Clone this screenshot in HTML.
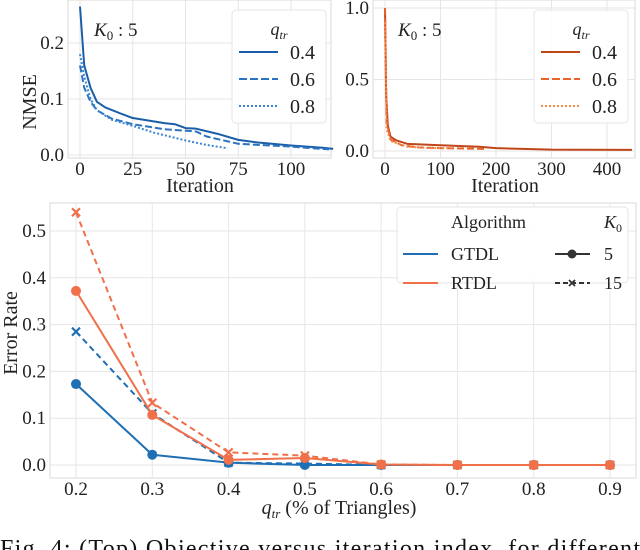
<!DOCTYPE html>
<html><head><meta charset="utf-8"><style>
html,body{margin:0;padding:0;background:#fff;}
svg{display:block;}
svg text{font-family:"Liberation Serif","DejaVu Serif",serif;}
</style></head><body>
<svg id="c" width="640" height="550" viewBox="0 0 640 550" xmlns="http://www.w3.org/2000/svg" font-family="Liberation Serif, serif"></svg>
<script>
// ---- Top-left data (NMSE vs iteration, GTDL) ----
const tlX04=[0,2,5,8,12,20,25,40,45,50,55,65,75,85,100,115,120];
const tlY04=[0.265,0.16,0.12,0.095,0.085,0.073,0.066,0.057,0.055,0.048,0.047,0.038,0.027,0.022,0.017,0.013,0.011];
const tlX06=[0,2,5,8,15,25,40,55,60,75,100,118];
const tlY06=[0.16,0.12,0.095,0.08,0.065,0.055,0.046,0.042,0.033,0.02,0.015,0.01];
const tlX08=[0,2,5,8,15,25,35,50,60,70];
const tlY08=[0.18,0.14,0.1,0.08,0.063,0.052,0.04,0.026,0.018,0.012];
const tlXTicks=[0,25,50,75,100];
const tlYTicks=[0.0,0.1,0.2];
// ---- Top-right data (RTDL) ----
const trX04=[0,2,5,10,20,40,100,170,200,300,445];
const trY04=[1.0,0.4,0.18,0.1,0.075,0.05,0.04,0.03,0.02,0.01,0.008];
const trX06=[0,3,10,30,60,100,180];
const trY06=[1.0,0.2,0.08,0.04,0.025,0.02,0.015];
const trX08=[0,3,10,40,80,120];
const trY08=[0.9,0.15,0.07,0.03,0.02,0.02];
const trXTicks=[0,100,200,300,400];
const trYTicks=[0.0,0.5,1.0];
// ---- Bottom data (error rate) ----
const qtr=[0.2,0.3,0.4,0.5,0.6,0.7,0.8,0.9];
const gtdl5=[0.173,0.022,0.005,0.0,0.0,0.0,0.0,0.0];
const gtdl15=[0.285,0.11,0.005,0.003,0.0,0.0,0.0,0.0];
const rtdl5=[0.372,0.107,0.011,0.015,0.001,0.0,0.0,0.0];
const rtdl15=[0.54,0.133,0.027,0.02,0.001,0.0,0.0,0.0];
const bYTicks=[0.0,0.1,0.2,0.3,0.4,0.5];

const NS="http://www.w3.org/2000/svg";
const FF="Liberation Serif, DejaVu Serif, serif";
const svg=document.getElementById('c');
function el(tag,attrs,parent,txt){const e=document.createElementNS(NS,tag);if(tag==='text')e.setAttribute('font-family',FF);for(const k in attrs)e.setAttribute(k,attrs[k]);if(txt!==undefined)e.textContent=txt;(parent||svg).appendChild(e);return e;}
function lin(d0,d1,p0,p1){return v=>p0+(v-d0)*(p1-p0)/(d1-d0);}

function panel(name,box,sx,sy,xt,yt){
  const g=el('g',{});
  
  
  for(const t of xt){el('line',{x1:sx(t),x2:sx(t),y1:box.t,y2:box.b,stroke:'#e6e6e6','stroke-width':1},g);}
  for(const t of yt){el('line',{x1:box.l,x2:box.r,y1:sy(t),y2:sy(t),stroke:'#e6e6e6','stroke-width':1},g);}
  el('rect',{x:box.l,y:box.t,width:box.r-box.l,height:box.b-box.t,fill:'none',stroke:'#e0e0e0','stroke-width':1.2},g);
  for(const t of xt){const tx=el('text',{x:sx(t),y:box.b+17,'text-anchor':'middle','font-size':19,fill:'#222'},g,String(t));
    }
  for(const t of yt){const tx=el('text',{x:box.l-4,y:sy(t)+6,'text-anchor':'end','font-size':19,fill:'#222'},g,t.toFixed(1));
    }
  return g;
}
function line(g,xs,ys,sx,sy,color,dash,w,name){
  const p=el('polyline',{points:xs.map((x,i)=>sx(x)+','+sy(ys[i])).join(' '),fill:'none',stroke:color,'stroke-width':w||2,'stroke-dasharray':dash||'none','stroke-linejoin':'round'},g);
  
  
  return p;
}
function legendQ(x,y,colors,name){
  const g=el('g',{});
  
  
  el('rect',{x:x,y:y,width:94,height:113,rx:4,fill:'#fff','fill-opacity':0.85,stroke:'#e6e6e6'},g);
  const t=el('text',{x:x+47,y:y+25,'text-anchor':'middle','font-size':18,'font-style':'italic',fill:'#222'},g);
  el('tspan',{},t,'q');el('tspan',{'font-size':12,dy:4},t,'tr');
  const labs=['0.4','0.6','0.8'],dashes=['none','8,3','2,2'];
  for(let i=0;i<3;i++){
    const yy=y+42+i*27;
    el('line',{x1:x+7,x2:x+46,y1:yy,y2:yy,stroke:colors[i],'stroke-width':2,'stroke-dasharray':dashes[i]},g);
    el('text',{x:x+58,y:yy+7,'font-size':20,fill:'#222'},g,labs[i]);
  }
}
function k0label(x,y){
  const t=el('text',{x:x,y:y,'font-size':19,'font-style':'italic',fill:'#222'});
  
  el('tspan',{},t,'K');el('tspan',{'font-size':13,dy:4,'font-style':'normal'},t,'0');el('tspan',{dy:-4,'font-style':'normal'},t,' : 5');
}

// Top-left
{
  const box={l:68,r:331,t:0,b:158};
  const sx=lin(0,100,80,291), sy=lin(0,0.2,155,43);
  const g=panel('nmse-gtdl-panel',box,sx,sy,tlXTicks,tlYTicks);
  const cs=['#1a5ea8','#2b72c0','#3a86d0'];
  line(g,tlX04,tlY04,sx,sy,cs[0],'none',2,'line-q04');
  line(g,tlX06,tlY06,sx,sy,cs[1],'7,3',2,'line-q06');
  line(g,tlX08,tlY08,sx,sy,cs[2],'2,2',2,'line-q08');
  k0label(94,36);
  legendQ(232,10,cs,'legend-gtdl');
  const yl=el('text',{x:0,y:0,transform:'translate(36,102) rotate(-90)','text-anchor':'middle','font-size':20,fill:'#222'},null,'NMSE');
  
  const xl=el('text',{x:200,y:192,'text-anchor':'middle','font-size':20,fill:'#222'},null,'Iteration');
  
}
// Top-right
{
  const box={l:373,r:635,t:0,b:158};
  const sx=lin(0,400,385,607), sy=lin(0,1,151,8);
  const g=panel('nmse-rtdl-panel',box,sx,sy,trXTicks,trYTicks);
  const cs=['#c0461a','#e8622a','#f58a4a'];
  line(g,trX04,trY04,sx,sy,cs[0],'none',2,'line-q04');
  line(g,trX06,trY06,sx,sy,cs[1],'7,3',2,'line-q06');
  line(g,trX08,trY08,sx,sy,cs[2],'2,2',2,'line-q08');
  k0label(398,36);
  legendQ(534,10,cs,'legend-rtdl');
  const xl=el('text',{x:505,y:192,'text-anchor':'middle','font-size':20,fill:'#222'},null,'Iteration');
  
}
// Bottom
{
  const box={l:50,r:636,t:203,b:478};
  const sx=lin(0.2,0.9,76,610), sy=lin(0,0.5,465,231);
  const g=panel('error-rate-panel',box,sx,sy,[],bYTicks);
  for(const t of qtr){el('line',{x1:sx(t),x2:sx(t),y1:box.t,y2:box.b,stroke:'#e6e6e6'},g);
    const tx=el('text',{x:sx(t),y:box.b+17,'text-anchor':'middle','font-size':19,fill:'#222'},g,t.toFixed(1));
    }
  const blue='#1f6fb4', orng='#f0704a';
  const series=[[gtdl15,blue,'6,4','x','gtdl-k15'],[gtdl5,blue,'none','o','gtdl-k5'],[rtdl5,orng,'none','o','rtdl-k5'],[rtdl15,orng,'6,4','x','rtdl-k15']];
  for(const [ys,c,d,m,n] of series){
    line(g,qtr,ys,sx,sy,c,d,2,n+'-line');
    qtr.forEach((q,i)=>{
      const x=sx(q),y=sy(ys[i]);
      if(m==='o'){const ci=el('circle',{cx:x,cy:y,r:5,fill:c},g);}
      else{const p=el('path',{d:`M${x-4},${y-4}L${x+4},${y+4}M${x-4},${y+4}L${x+4},${y-4}`,stroke:c,'stroke-width':2.2},g);}
    });
  }
  const lg=el('g',{});
  
  
  el('rect',{x:397,y:207,width:231,height:76,rx:4,fill:'#fff','fill-opacity':0.9,stroke:'#e6e6e6'},lg);
  el('text',{x:451,y:228,'font-size':18,fill:'#222'},lg,'Algorithm');
  const kt=el('text',{x:604,y:228,'font-size':18,'font-style':'italic',fill:'#222'},lg);
  el('tspan',{},kt,'K');el('tspan',{'font-size':12,dy:4,'font-style':'normal'},kt,'0');
  el('line',{x1:403,x2:438,y1:254,y2:254,stroke:blue,'stroke-width':2},lg);
  el('text',{x:451,y:260,'font-size':18,fill:'#222'},lg,'GTDL');
  el('line',{x1:403,x2:438,y1:283,y2:283,stroke:orng,'stroke-width':2},lg);
  el('text',{x:451,y:289,'font-size':18,fill:'#222'},lg,'RTDL');
  el('line',{x1:555,x2:590,y1:254,y2:254,stroke:'#333','stroke-width':2},lg);
  el('circle',{cx:572,cy:254,r:4.5,fill:'#333'},lg);
  el('text',{x:604,y:260,'font-size':18,fill:'#222'},lg,'5');
  el('line',{x1:555,x2:590,y1:283,y2:283,stroke:'#333','stroke-width':2,'stroke-dasharray':'5,3'},lg);
  el('path',{d:'M569,280L575,286M569,286L575,280',stroke:'#333','stroke-width':1.8},lg);
  el('text',{x:604,y:289,'font-size':18,fill:'#222'},lg,'15');
  const yl=el('text',{x:0,y:0,transform:'translate(17,333) rotate(-90)','text-anchor':'middle','font-size':20,fill:'#222'},null,'Error Rate');
  
  const xl=el('text',{x:339,y:514,'text-anchor':'middle','font-size':20,fill:'#222'});
  
  el('tspan',{'font-style':'italic'},xl,'q');el('tspan',{'font-size':13,dy:4,'font-style':'italic'},xl,'tr');
  el('tspan',{dy:-4},xl,'  (% of Triangles)');
}
const cap=el('text',{x:0,y:556,'font-size':24,fill:'#111',textLength:640,lengthAdjust:'spacing'},null,'Fig. 4: (Top) Objective versus iteration index, for different');

</script>
</body></html>
